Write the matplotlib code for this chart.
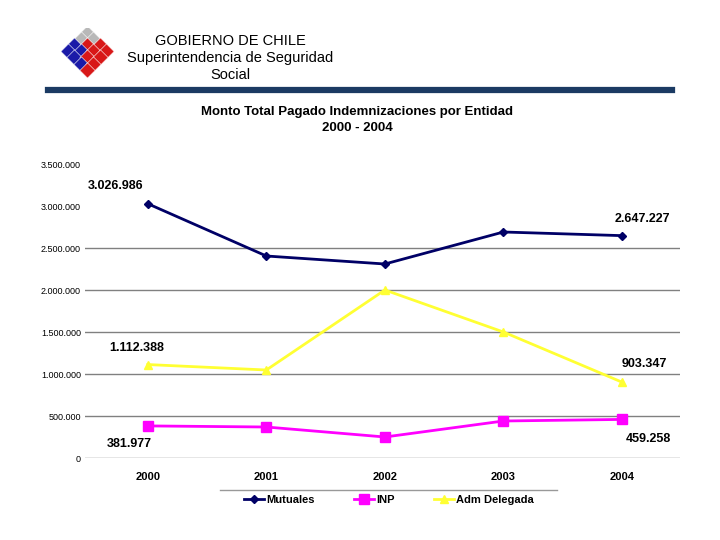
import numpy as np
import matplotlib.pyplot as plt

plt.rcParams['font.family'] = ['Liberation Sans', 'DejaVu Sans']

years = ['2000', '2001', '2002', '2003', '2004']
mutuales = [3026986, 2404762, 2309524, 2690476, 2647227]
inp = [381977, 369048, 250000, 440476, 459258]
adm_delegada = [1112388, 1047619, 2000000, 1500000, 903347]
y_ticks = [0, 500000, 1000000, 1500000, 2000000, 2500000, 3000000, 3500000]
grid_vals = [0, 500000, 1000000, 1500000, 2000000, 2500000]


def miles(v):
    return '{:,}'.format(int(v)).replace(',', '.')


fig = plt.figure(figsize=(7.2, 5.4), dpi=100)

# header text
for txt, yy in [('GOBIERNO DE CHILE', 41), ('Superintendencia de Seguridad', 58), ('Social', 75)]:
    fig.text(230 / 720, 1 - yy / 540, txt, ha='center', va='center', fontsize=10.5)
fig.add_artist(plt.Line2D([48 / 720, 672 / 720], [1 - 90 / 540] * 2, color='#1b3a63', lw=4.5))

# logo
lg = fig.add_axes([60 / 720, 1 - 82 / 540, 54 / 720, 54 / 540])
lg.set_xlim(-4.2, 4.2)
lg.set_ylim(-8.2, 0.6)
lg.axis('off')
for u in range(4):
    for v in range(4):
        xx = u - v
        yy = -(u + v) - 0.2
        if u + v <= 1:
            c = '#b8b8b8'
        elif v > u:
            c = '#1a1aa8'
        else:
            c = '#d81818'
        lg.scatter(xx, yy, marker='D', s=60, color=c, edgecolor='white', lw=0.4)

# chart title
fig.text(357 / 720, 1 - 112 / 540, 'Monto Total Pagado Indemnizaciones por Entidad',
         ha='center', va='center', fontsize=9.5, fontweight='bold')
fig.text(357 / 720, 1 - 128 / 540, '2000 - 2004', ha='center', va='center',
         fontsize=9.5, fontweight='bold')

ax = fig.add_axes([85 / 720, 1 - 458 / 540, 595 / 720, 294 / 540])
x = np.arange(len(years))
for g in grid_vals:
    ax.axhline(g, color='#808080', lw=1, zorder=0)
ax.plot(x, adm_delegada, color='#ffff33', marker='^', ms=6, lw=2, label='Adm Delegada')
ax.plot(x, inp, color='#ff00ff', marker='s', ms=6.5, lw=2, label='INP')
ax.plot(x, mutuales, color='#000066', marker='D', ms=4.5, lw=2, label='Mutuales')

ax.set_xlim(-0.53, 4.49)
ax.set_ylim(0, 3500000)
ax.set_xticks(x)
ax.set_xticklabels(years, fontsize=8, fontweight='bold')
ax.set_yticks(y_ticks)
ax.set_yticklabels([miles(v) for v in y_ticks], fontsize=6.5)
ax.tick_params(axis='x', length=0, pad=10)
ax.tick_params(axis='y', length=0, pad=3)
for s in ax.spines.values():
    s.set_visible(False)

# data labels
lab_kw = dict(ha='center', va='center', fontsize=9, fontweight='bold')
ax.annotate(miles(mutuales[0]), (x[0], mutuales[0]), xytext=(-23, 13), textcoords='offset points', **lab_kw)
ax.annotate(miles(mutuales[4]), (x[4], mutuales[4]), xytext=(15, 12), textcoords='offset points', **lab_kw)
ax.annotate(miles(adm_delegada[0]), (x[0], adm_delegada[0]), xytext=(-8, 12), textcoords='offset points', **lab_kw)
ax.annotate(miles(adm_delegada[4]), (x[4], adm_delegada[4]), xytext=(16, 13), textcoords='offset points', **lab_kw)
ax.annotate(miles(inp[0]), (x[0], inp[0]), xytext=(-13, -13), textcoords='offset points', **lab_kw)
ax.annotate(miles(inp[4]), (x[4], inp[4]), xytext=(19, -14), textcoords='offset points', **lab_kw)

# legend
fig.add_artist(plt.Line2D([220 / 720, 557 / 720], [1 - 490 / 540] * 2, color='#999999', lw=1))
handles, labels = ax.get_legend_handles_labels()
order = [2, 1, 0]
leg = fig.legend([handles[i] for i in order], [labels[i] for i in order],
                 loc='center', bbox_to_anchor=(389 / 720, 1 - 500 / 540), ncol=3,
                 frameon=False, fontsize=8, handlelength=1.8, columnspacing=3.5,
                 handletextpad=0.2)
for t in leg.get_texts():
    t.set_fontweight('bold')

fig.savefig('out.png', dpi=100)
